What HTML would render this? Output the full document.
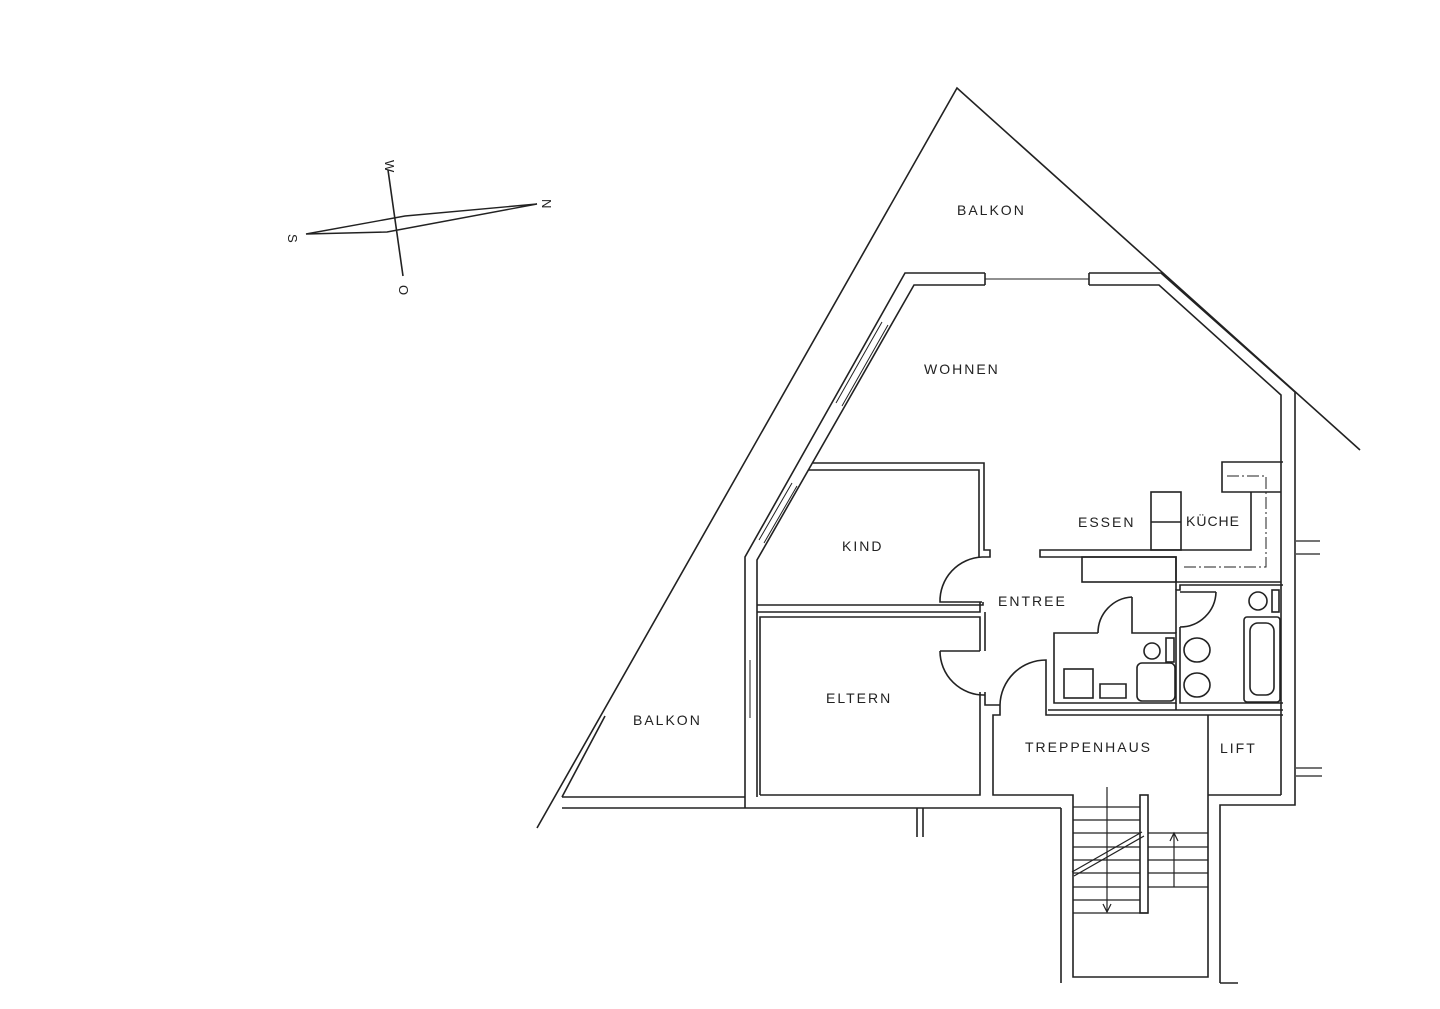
<!DOCTYPE html>
<html><head><meta charset="utf-8"><style>
html,body{margin:0;padding:0;background:#fff;}
svg{display:block}
text{font-family:"Liberation Sans",sans-serif;font-size:14px;fill:#222;letter-spacing:2px}
</style></head><body>
<svg width="1440" height="1009" viewBox="0 0 1440 1009" xmlns="http://www.w3.org/2000/svg">
<g fill="none" stroke="#222" stroke-width="1.6">
<line x1="388" y1="170" x2="403" y2="276"/>
<polygon points="306,234 405,216 537,204 387,232" stroke-width="1.4"/>
<polyline points="537,828 957,88 1360,450"/>
<line x1="605" y1="716" x2="562" y2="797"/>
<line x1="562" y1="797" x2="745" y2="797"/>
<line x1="562" y1="808" x2="1061" y2="808"/>
<polyline points="745,808 745,557 905,273 985,273"/>
<polyline points="1089,273 1161,273 1295,392 1295,805 1220,805 1220,983"/>
<polyline points="757,797 757,560 914,285 985,285"/>
<polyline points="1089,285 1159,285 1281,395 1281,795"/>
<line x1="985" y1="273" x2="985" y2="285"/><line x1="1089" y1="273" x2="1089" y2="285"/>
<line x1="985" y1="279" x2="1089" y2="279" stroke-width="1"/>
<line x1="882" y1="322" x2="836" y2="403" stroke-width="1"/>
<line x1="888" y1="325" x2="842" y2="406" stroke-width="1"/>
<line x1="792" y1="483" x2="759" y2="540" stroke-width="1"/>
<line x1="797" y1="486" x2="764" y2="543" stroke-width="1"/>
<line x1="750" y1="660" x2="750" y2="718" stroke-width="1"/>
<polyline points="813,463 984,463 984,550 990,550 990,557 982,557"/>
<polyline points="808,470 979,470 979,557"/>
<polyline points="757,605 983,605 983,602"/>
<polyline points="757,612 980,612 980,602"/>
<path d="M982,557 A44,44 0 0 0 940,602 L982,602"/>
<polyline points="760,795 760,617 980,617 980,651"/>
<polyline points="980,692 980,795 760,795"/>
<polyline points="985,612 985,651"/>
<path d="M940,651 L980,651 M940,651 A44,44 0 0 0 985,695"/>
<polyline points="985,692 985,705 1000,705"/>
<path d="M1000,705 A46,46 0 0 1 1046,660 L1046,715 L1283,715"/>
<polyline points="1000,705 1000,715 993,715 993,795 1073,795 1073,977 1208,977 1208,715"/>
<line x1="1061" y1="808" x2="1061" y2="983"/>
<line x1="1220" y1="983" x2="1238" y2="983"/>
<line x1="1208" y1="795" x2="1281" y2="795"/>
<rect x="1140" y="795" width="8" height="118"/>
<g stroke-width="1.2">
<line x1="1073" y1="807" x2="1140" y2="807"/><line x1="1073" y1="820" x2="1140" y2="820"/>
<line x1="1073" y1="833" x2="1140" y2="833"/><line x1="1073" y1="847" x2="1140" y2="847"/>
<line x1="1073" y1="860" x2="1140" y2="860"/><line x1="1073" y1="873" x2="1140" y2="873"/>
<line x1="1073" y1="887" x2="1140" y2="887"/><line x1="1073" y1="900" x2="1140" y2="900"/>
<line x1="1073" y1="913" x2="1148" y2="913"/>
<line x1="1148" y1="833" x2="1208" y2="833"/><line x1="1148" y1="847" x2="1208" y2="847"/>
<line x1="1148" y1="860" x2="1208" y2="860"/><line x1="1148" y1="873" x2="1208" y2="873"/>
<line x1="1148" y1="887" x2="1208" y2="887"/>
<line x1="1107" y1="787" x2="1107" y2="912"/><polyline points="1103,904 1107,912 1111,904"/>
<line x1="1174" y1="887" x2="1174" y2="833"/><polyline points="1170,841 1174,833 1178,841"/>
<line x1="1072" y1="872" x2="1142" y2="832"/><line x1="1074" y1="876" x2="1144" y2="836"/>
</g>
<line x1="917" y1="808" x2="917" y2="837"/><line x1="923" y1="808" x2="923" y2="837"/>
<polyline points="1098,633 1054,633 1054,703 1176,703 1176,633 1132,633 1132,597"/>
<path d="M1132,597 A36,36 0 0 0 1098,633"/>
<rect x="1064" y="669" width="29" height="29"/>
<rect x="1137" y="663" width="38" height="38" rx="5"/>
<path d="M1100,684 h26 v14 h-26 z" />
<circle cx="1152" cy="651" r="8"/>
<rect x="1166" y="638" width="8" height="24"/>
<polyline points="1180,627 1180,703 1283,703"/>
<line x1="1176" y1="703" x2="1176" y2="710"/>
<line x1="1048" y1="710" x2="1283" y2="710"/>
<polyline points="1176,633 1176,590 1180,590 1180,585 1283,585"/>
<line x1="1216" y1="592" x2="1180" y2="592"/>
<path d="M1216,592 A36,36 0 0 1 1180,627"/>
<rect x="1244" y="617" width="36" height="85" rx="3"/>
<rect x="1250" y="623" width="24" height="72" rx="8"/>
<ellipse cx="1197" cy="650" rx="13" ry="12"/>
<ellipse cx="1197" cy="685" rx="13" ry="12"/>
<circle cx="1258" cy="601" r="9"/>
<rect x="1272" y="590" width="7" height="22"/>
<polyline points="1283,462 1222,462 1222,492 1281,492"/>
<polyline points="1251,492 1251,550 1040,550 1040,557 1176,557 1176,590"/>
<rect x="1082" y="557" width="94" height="25"/>
<line x1="1176" y1="582" x2="1281" y2="582"/>
<rect x="1151" y="492" width="30" height="58"/>
<line x1="1151" y1="522" x2="1181" y2="522"/>
<polyline points="1227,476 1266,476 1266,567 1182,567" stroke-width="1" stroke-dasharray="12,3,2,3"/>
<line x1="1296" y1="541" x2="1320" y2="541" stroke-width="1.2"/><line x1="1296" y1="554" x2="1320" y2="554" stroke-width="1.2"/>
<line x1="1296" y1="768" x2="1322" y2="768" stroke-width="1.2"/><line x1="1296" y1="776" x2="1322" y2="776" stroke-width="1.2"/>
</g>
<g>
<text x="957" y="215">BALKON</text>
<text x="924" y="374">WOHNEN</text>
<text x="1078" y="527">ESSEN</text>
<text x="1186" y="526" style="letter-spacing:1px">KÜCHE</text>
<text x="842" y="551">KIND</text>
<text x="998" y="606">ENTREE</text>
<text x="826" y="703">ELTERN</text>
<text x="633" y="725">BALKON</text>
<text x="1025" y="752">TREPPENHAUS</text>
<text x="1220" y="753">LIFT</text>
<text transform="translate(385,160) rotate(90)" style="font-size:13px;letter-spacing:0">W</text>
<text transform="translate(399,285) rotate(90)" style="font-size:13px;letter-spacing:0">O</text>
<text transform="translate(288,234) rotate(90)" style="font-size:13px;letter-spacing:0">S</text>
<text transform="translate(542,199) rotate(90)" style="font-size:13px;letter-spacing:0">N</text>
</g>
</svg>
</body></html>
